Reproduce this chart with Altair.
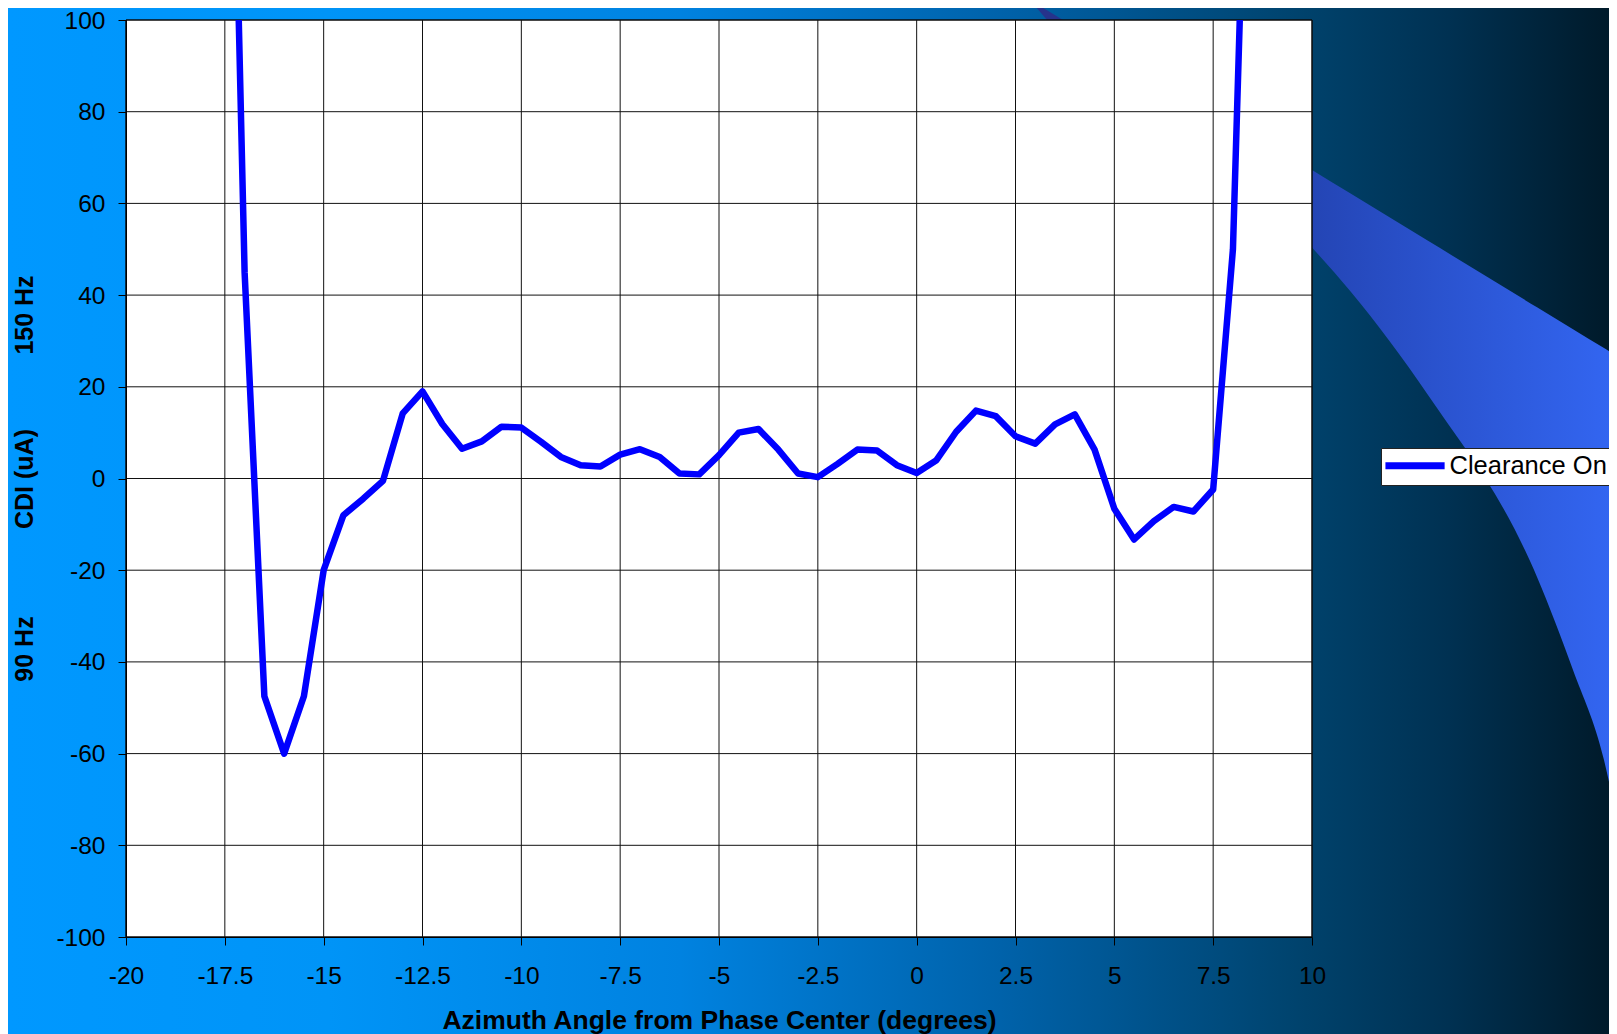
import altair as alt
import pandas as pd

# ---------------- data ----------------
angle = [-17.5, -17.0, -16.5, -16.0, -15.5, -15.0, -14.5, -14.0, -13.5, -13.0,
         -12.5, -12.0, -11.5, -11.0, -10.5, -10.0, -9.5, -9.0, -8.5, -8.0,
         -7.5, -7.0, -6.5, -6.0, -5.5, -5.0, -4.5, -4.0, -3.5, -3.0,
         -2.5, -2.0, -1.5, -1.0, -0.5, 0.0, 0.5, 1.0, 1.5, 2.0,
         2.5, 3.0, 3.5, 4.0, 4.5, 5.0, 5.5, 6.0, 6.5, 7.0,
         7.5, 8.0, 8.5]
cdi = [231, 45, -47.5, -60, -47.5, -20, -8, -4.4, -0.5, 14.2,
       19, 11.9, 6.5, 8.1, 11.3, 11.1, 8.0, 4.7, 2.9, 2.6,
       5.2, 6.4, 4.7, 1.1, 0.9, 5.1, 10.0, 10.8, 6.3, 1.1,
       0.3, 3.2, 6.3, 6.1, 2.9, 1.2, 4.0, 10.2, 14.8, 13.6,
       9.2, 7.6, 11.8, 14.0, 6.3, -6.6, -13.3, -9.3, -6.2, -7.2,
       -2.4, 50, 195]
series_name = "Clearance On"
x_ticks = [-20, -17.5, -15, -12.5, -10, -7.5, -5, -2.5, 0, 2.5, 5, 7.5, 10]
y_ticks = [-100, -80, -60, -40, -20, 0, 20, 40, 60, 80, 100]
x_title = "Azimuth Angle from Phase Center (degrees)"
y_titles = ["150 Hz", "CDI (uA)", "90 Hz"]

# ---------------- layout ----------------
W, H = 1186, 917
PAD = {"left": 118, "top": 12, "right": 297, "bottom": 97}
FONT = "Liberation Sans, Arial, sans-serif"

df = pd.DataFrame({"angle": angle, "cdi": cdi, "series": [series_name] * len(angle)})
one = pd.DataFrame({"k": [0]})

xscale = alt.Scale(domain=[-20, 10], nice=False, zero=False)
yscale = alt.Scale(domain=[-100, 100], nice=False, zero=False)

xaxis = alt.Axis(values=x_ticks, labelExpr="datum.value + ''", grid=False,
                 domainColor="black", tickColor="black", tickSize=8,
                 labelFont=FONT, labelFontSize=24.5, labelColor="black", labelPadding=19,
                 labelFlush=False, labelOverlap=False,
                 title=x_title, titleFont=FONT, titleFontSize=26.5, titleFontWeight="bold",
                 titleColor="black", titlePadding=20, zindex=1)
yaxis = alt.Axis(values=y_ticks, labelExpr="datum.value + ''", grid=False,
                 domainColor="black", tickColor="black", tickSize=8,
                 labelFont=FONT, labelFontSize=24.5, labelColor="black", labelPadding=13,
                 labelOffset=1, labelFlush=False, labelOverlap=False, title=None, zindex=1)

# slide background gradient (decoration)
bg_grad = alt.LinearGradient(
    gradient="linear", x1=0, x2=1, y1=0, y2=0,
    stops=[alt.GradientStop(offset=0.0, color="#0098FF"),
           alt.GradientStop(offset=0.2, color="#0094F7"),
           alt.GradientStop(offset=0.42, color="#0082E0"),
           alt.GradientStop(offset=0.62, color="#0062AA"),
           alt.GradientStop(offset=0.8, color="#00446F"),
           alt.GradientStop(offset=0.9, color="#003152"),
           alt.GradientStop(offset=1.0, color="#001A2A")])
bg = alt.Chart(one).mark_rect(fill=bg_grad, strokeWidth=0).encode(
    x=alt.value(-PAD["left"]), x2=alt.value(W + PAD["right"]),
    y=alt.value(-PAD["top"]), y2=alt.value(H + PAD["bottom"]))

# decorative swoosh on the right (pixel space)
sw = pd.DataFrame({
    "px": [1186, 1225, 1302, 1411, 1447, 1478, 1491],
    "py": [150, 173.8, 220.8, 287.3, 309.2, 328.1, 336],
    "py2": [227.5, 272, 375, 557, 650, 740, 800],
})
sw_grad = alt.LinearGradient(
    gradient="linear", x1=0, x2=1, y1=0, y2=0,
    stops=[alt.GradientStop(offset=0.0, color="#2445B5"),
           alt.GradientStop(offset=1.0, color="#3366F2")])
swoosh = alt.Chart(sw).mark_area(fill=sw_grad, interpolate="monotone").encode(
    x=alt.X("px:Q", scale=None, axis=None), y=alt.Y("py:Q", scale=None, axis=None), y2="py2:Q")

wd = pd.DataFrame({"px": [904, 921, 937], "py": [-20, -9.7, 0], "py2": [-20, 0, 0]})
wedge = alt.Chart(wd).mark_area(fill="#26338C").encode(
    x=alt.X("px:Q", scale=None, axis=None), y=alt.Y("py:Q", scale=None, axis=None), y2="py2:Q")

# white plot area
plot_bg = alt.Chart(one).mark_rect(fill="white", stroke="black", strokeWidth=1).encode(
    x=alt.value(0), x2=alt.value(W), y=alt.value(0), y2=alt.value(H))

# grid lines (carry the same axis definitions so the shared axes merge cleanly)
xgrid = alt.Chart(pd.DataFrame({"angle": x_ticks})).mark_rule(color="#111111", strokeWidth=1).encode(
    x=alt.X("angle:Q", scale=xscale, axis=xaxis))
ygrid = alt.Chart(pd.DataFrame({"cdi": y_ticks})).mark_rule(color="#111111", strokeWidth=1).encode(
    y=alt.Y("cdi:Q", scale=yscale, axis=yaxis))

legend = alt.Legend(orient="none", legendX=1255, legendY=428, title=None,
                    fillColor="white", strokeColor="#222222", padding=5,
                    symbolType="M-1.8,0H6.2", symbolSize=219, symbolStrokeWidth=7,
                    labelFont=FONT, labelFontSize=25.5, labelColor="black", labelOffset=38,
                    labelLimit=400)

line = alt.Chart(df).mark_line(strokeWidth=6.5, clip=True, strokeJoin="round", strokeCap="round").encode(
    x=alt.X("angle:Q", scale=xscale, axis=xaxis),
    y=alt.Y("cdi:Q", scale=yscale, axis=yaxis),
    color=alt.Color("series:N", scale=alt.Scale(range=["#0000FF"]), legend=legend))

# rotated y-axis captions
y_pos = [295, 459, 629]
ytexts = [
    alt.Chart(one).mark_text(angle=270, font=FONT, fontSize=25, fontWeight="bold",
                             color="black", align="center", baseline="middle").encode(
        text=alt.value(t), x=alt.value(-101), y=alt.value(p))
    for t, p in zip(y_titles, y_pos)
]

chart = alt.layer(bg, swoosh, wedge, plot_bg, xgrid, ygrid, line, *ytexts).properties(
    width=W, height=H, padding=PAD, autosize=alt.AutoSizeParams(type="none"),
    background="#0096FF",
).configure_view(stroke=None)

chart.save("out.html", embed_options={"renderer": "svg", "actions": False})
